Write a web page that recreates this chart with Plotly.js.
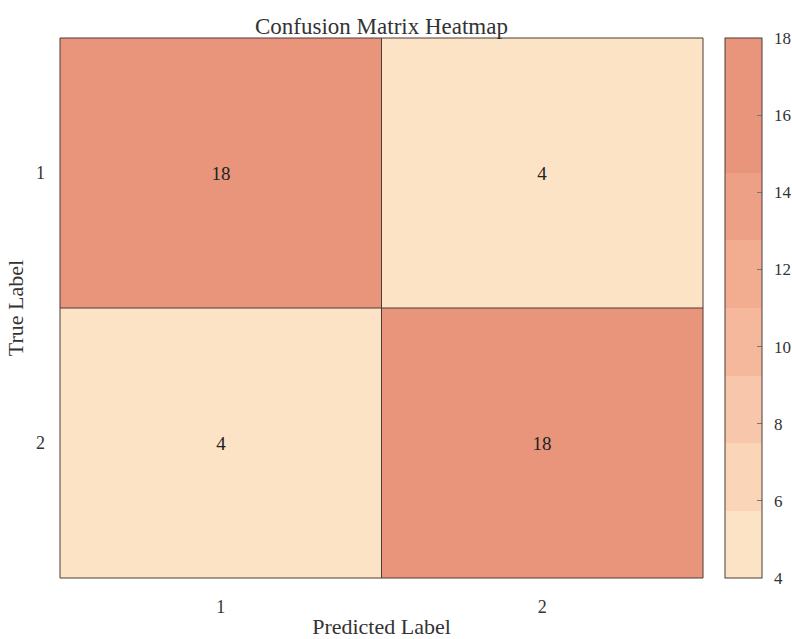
<!DOCTYPE html>
<html>
<head>
<meta charset="utf-8">
<script src="https://cdn.plot.ly/plotly-3.0.1.min.js"></script>
<style>html,body{margin:0;padding:0;background:#fff}#chart{width:792px;height:639px}</style>
</head>
<body>
<div id="chart"></div>
<script>
const predictedLabels = ['1', '2'];
const trueLabels = ['1', '2'];
const counts = [
  [18, 4],
  [4, 18]
];
const zMin = 4;
const zMax = 18;
const colorbarTicks = [4, 6, 8, 10, 12, 14, 16, 18];
const bandColors = ['#FDE3C5', '#FBD5B8', '#F8C6AA', '#F5B89C', '#F2AC90', '#EEA086', '#E9957C', '#E9957C'];

const colorscale = [];
bandColors.forEach((c, i) => {
  colorscale.push([i / bandColors.length, c]);
  colorscale.push([(i + 1) / bandColors.length, c]);
});

const font = 'Liberation Serif, Times New Roman, serif';
const lineCol = '#4a3c36';
const textCol = '#333';

const baseColorbar = {
  thickness: 37,
  thicknessmode: 'pixels',
  len: 540,
  lenmode: 'pixels',
  x: 1.034,
  xanchor: 'left',
  y: 0.5,
  yanchor: 'middle',
  xpad: 0,
  ypad: 0,
  tickvals: colorbarTicks,
  tickfont: {family: font, size: 17, color: textCol}
};

// colorbar carrying the labels (offset by a transparent outside tick)
const labelTrace = {
  type: 'heatmap',
  x: predictedLabels,
  y: trueLabels,
  z: counts,
  zmin: zMin,
  zmax: zMax,
  colorscale: colorscale,
  hoverinfo: 'skip',
  colorbar: Object.assign({}, baseColorbar, {
    outlinewidth: 0,
    ticks: 'outside',
    ticklen: 9,
    tickcolor: 'rgba(0,0,0,0)'
  })
};

// main heatmap with cell values and inside tick marks
const mainTrace = {
  type: 'heatmap',
  x: predictedLabels,
  y: trueLabels,
  z: counts,
  zmin: zMin,
  zmax: zMax,
  colorscale: colorscale,
  texttemplate: '%{z}',
  textfont: {family: font, size: 19, color: '#222'},
  hoverinfo: 'skip',
  colorbar: Object.assign({}, baseColorbar, {
    outlinewidth: 1,
    outlinecolor: lineCol,
    ticks: 'inside',
    ticklen: 5,
    tickcolor: '#777',
    showticklabels: false
  })
};

const shapes = [
  {type: 'line', xref: 'x', yref: 'paper', x0: 0.5, x1: 0.5, y0: 0, y1: 1, line: {color: lineCol, width: 1}},
  {type: 'line', xref: 'paper', yref: 'y', x0: 0, x1: 1, y0: 0.5, y1: 0.5, line: {color: lineCol, width: 1}},
  {type: 'rect', xref: 'paper', yref: 'paper', x0: 0, x1: 1, y0: 0, y1: 1, line: {color: lineCol, width: 1}}
];

const layout = {
  width: 792,
  height: 639,
  margin: {l: 60, r: 89, t: 38, b: 61, autoexpand: false},
  paper_bgcolor: '#fff',
  plot_bgcolor: '#fff',
  title: {text: 'Confusion Matrix Heatmap', font: {family: font, size: 23, color: textCol}, x: 0.5, xref: 'paper', y: 1, yref: 'paper', yanchor: 'bottom', pad: {b: 4}},
  xaxis: {
    title: {text: 'Predicted Label', font: {family: font, size: 22, color: textCol}, standoff: 4},
    tickfont: {family: font, size: 18, color: textCol},
    ticklabelstandoff: 16,
    showgrid: false, zeroline: false, ticks: '', showline: false,
    type: 'category', automargin: false
  },
  yaxis: {
    title: {text: 'True Label', font: {family: font, size: 22, color: textCol}, standoff: 6},
    tickfont: {family: font, size: 18, color: textCol},
    ticklabelstandoff: 14,
    showgrid: false, zeroline: false, ticks: '', showline: false,
    type: 'category', autorange: 'reversed', automargin: false
  },
  shapes: shapes
};

Plotly.newPlot('chart', [labelTrace, mainTrace], layout, {displayModeBar: false, staticPlot: true});
</script>
</body>
</html>
